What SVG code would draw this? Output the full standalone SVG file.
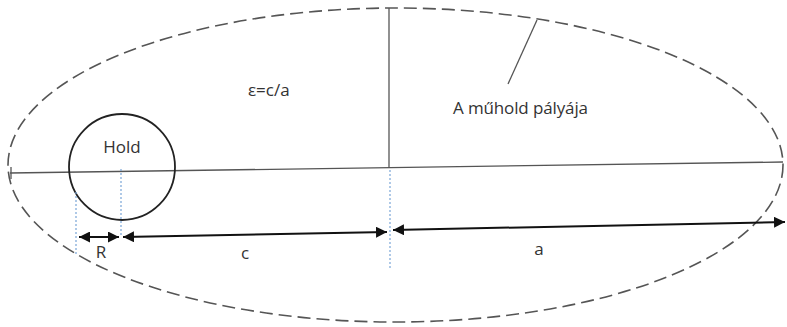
<svg xmlns="http://www.w3.org/2000/svg" width="787" height="327" viewBox="0 0 787 327">
<style>
.orbit{fill:none;stroke:#555;stroke-width:1.6;stroke-dasharray:13 6}
.axis{fill:none;stroke:#555;stroke-width:1.3}
.moon{fill:none;stroke:#222;stroke-width:1.8}
.guide{fill:none;stroke:#7aa6d8;stroke-width:1.2;stroke-dasharray:2 2}
.dim{fill:none;stroke:#111;stroke-width:2}
.lbl{font-family:"Open Sans","Liberation Sans",sans-serif;font-size:17px;fill:#333}
</style>
<defs>
<marker id="ah" viewBox="0 0 10 10" refX="10" refY="5" markerWidth="5.5" markerHeight="5.5" orient="auto-start-reverse" markerUnits="strokeWidth">
<path d="M0,0 L10,5 L0,10 z" fill="#111"/>
</marker>
</defs>
<rect width="787" height="327" fill="#fff"/>
<g id="orbit">
<ellipse class="orbit" cx="395.5" cy="165" rx="387.5" ry="157"/>
<text class="lbl" x="453" y="114" textLength="135">A műhold pályája</text>
</g>
<g id="axes">
<line class="axis" x1="10" y1="173" x2="783" y2="162"/>
<line class="axis" x1="11" y1="167" x2="11" y2="179"/>
<line class="axis" x1="389" y1="8" x2="389" y2="168"/>
</g>
<g id="moon">
<circle class="moon" cx="122" cy="167" r="53"/>
<text class="lbl" x="122" y="153" text-anchor="middle">Hold</text>
</g>
<g id="ecc">
<text class="lbl" x="248" y="96">ε=c/a</text>
</g>
<g id="connectors">
<line class="axis" x1="537" y1="20" x2="508" y2="84"/>
<line class="guide" x1="76" y1="192" x2="76" y2="256"/>
<line class="guide" x1="121" y1="169" x2="121" y2="236"/>
<line class="guide" x1="390" y1="170" x2="390" y2="268"/>
<line class="dim" x1="79" y1="237" x2="119" y2="237" marker-start="url(#ah)" marker-end="url(#ah)"/>
<line class="dim" x1="123" y1="237" x2="387" y2="232" marker-start="url(#ah)" marker-end="url(#ah)"/>
<line class="dim" x1="393" y1="230" x2="785" y2="222" marker-start="url(#ah)" marker-end="url(#ah)"/>
</g>
<g id="labels">
<text class="lbl" x="101" y="258" text-anchor="middle">R</text>
<text class="lbl" x="245" y="259" text-anchor="middle">c</text>
<text class="lbl" x="539" y="255" text-anchor="middle">a</text>
</g>
</svg>
